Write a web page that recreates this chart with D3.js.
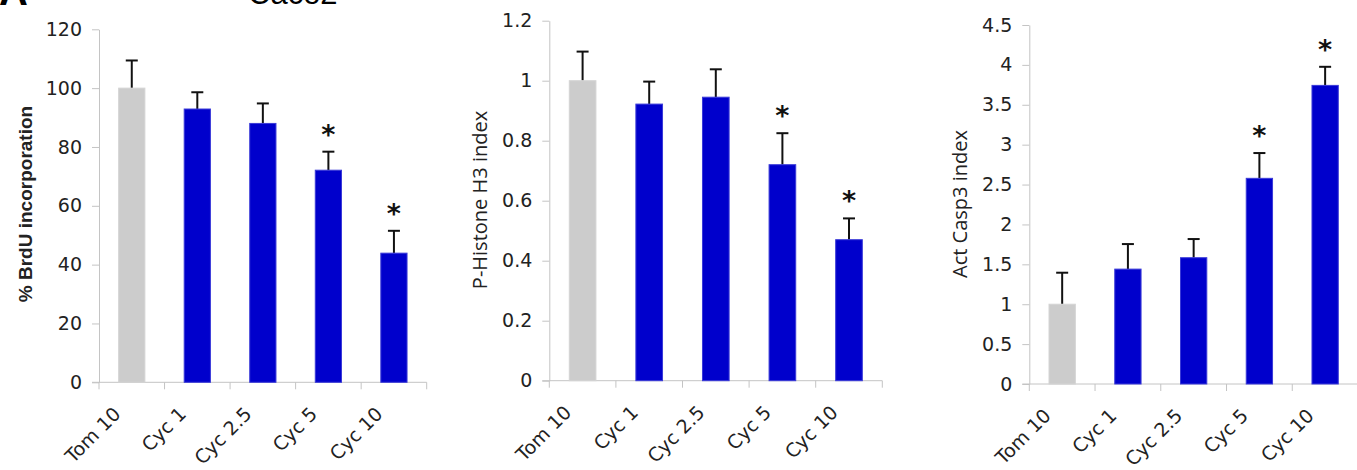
<!DOCTYPE html>
<html>
<head>
<meta charset="utf-8">
<script src="https://cdn.jsdelivr.net/npm/d3@7"></script>
<style>
  body { margin: 0; background: #fff; }
  svg { display: block; }
  .tick text, .xlab { font-family: "DejaVu Sans", Verdana, sans-serif; font-size: 19px; fill: #222; }
  .ylab { font-family: "Open Sans", sans-serif; font-size: 20px; fill: #222; }
  .ylab.bold { font-family: "Liberation Sans", Arial, sans-serif; font-weight: bold; font-size: 19px; }
  .star { font-family: "DejaVu Sans", sans-serif; font-size: 27px; font-weight: bold; fill: #111; }
</style>
</head>
<body>
<div id="chart"></div>
<script>
var categories = ["Tom 10", "Cyc 1", "Cyc 2.5", "Cyc 5", "Cyc 10"];

// % BrdU incorporation
var brduMean = [100, 92.9, 88.0, 72.1, 43.9];
var brduErr = [9.4, 5.7, 6.8, 6.3, 7.6];
var brduSig = [false, false, false, true, true];
var brduTicks = [0, 20, 40, 60, 80, 100, 120];

// P-Histone H3 index
var ph3Mean = [1.0, 0.922, 0.945, 0.72, 0.47];
var ph3Err = [0.097, 0.075, 0.093, 0.105, 0.071];
var ph3Sig = [false, false, false, true, true];
var ph3Ticks = [0, 0.2, 0.4, 0.6, 0.8, 1, 1.2];

// Act Casp3 index
var casp3Mean = [1.0, 1.44, 1.583, 2.578, 3.743];
var casp3Err = [0.395, 0.314, 0.234, 0.317, 0.233];
var casp3Sig = [false, false, false, true, true];
var casp3Ticks = [0, 0.5, 1, 1.5, 2, 2.5, 3, 3.5, 4, 4.5];

var width = 1357,
    height = 470;

var svg = d3.select("#chart").append("svg")
    .attr("width", width)
    .attr("height", height);

// panel letter and title, cut off at the top edge as in the figure
svg.append("text")
    .attr("x", -1).attr("y", 5)
    .style("font-family", "Liberation Sans, Arial, sans-serif")
    .style("font-weight", "bold")
    .style("font-size", "40px")
    .text("A");
svg.append("text")
    .attr("x", 248).attr("y", 4)
    .style("font-family", "Liberation Sans, Arial, sans-serif")
    .style("font-size", "31px")
    .text("Caco2");

var panels = [
  { mean: brduMean, err: brduErr, sig: brduSig, ticks: brduTicks, max: 120,
    label: "% BrdU incorporation", bold: true,
    x0: 99, x1: 426.7, y0: 382.3, y1: 29.3, labX: 32, labY: 204 },
  { mean: ph3Mean, err: ph3Err, sig: ph3Sig, ticks: ph3Ticks, max: 1.2,
    label: "P-Histone H3 index", bold: false,
    x0: 549.3, x1: 882.3, y0: 380.7, y1: 20.7, labX: 487, labY: 200 },
  { mean: casp3Mean, err: casp3Err, sig: casp3Sig, ticks: casp3Ticks, max: 4.5,
    label: "Act Casp3 index", bold: false,
    x0: 1029.3, x1: 1358, y0: 384, y1: 25, labX: 967, labY: 204 }
];

panels.forEach(drawPanel);

function drawPanel(p) {
  var g = svg.append("g");

  var x = d3.scaleBand()
      .domain(categories)
      .range([p.x0, p.x1])
      .padding(0);

  var y = d3.scaleLinear()
      .domain([0, p.max])
      .range([p.y0, p.y1]);

  var yAxis = d3.axisLeft(y)
      .tickValues(p.ticks)
      .tickFormat(function(d) { return d3.format("~g")(d); })
      .tickSize(7)
      .tickSizeOuter(0)
      .tickPadding(10);

  var ya = g.append("g")
      .attr("transform", "translate(" + p.x0 + ",0)")
      .call(yAxis);
  ya.select(".domain").attr("stroke", "#c4c4c4");
  ya.selectAll(".tick line").attr("stroke", "#c4c4c4");

  // x axis: line with ticks at band edges
  g.append("line")
      .attr("x1", p.x0 - 7).attr("x2", p.x1)
      .attr("y1", y(0)).attr("y2", y(0))
      .attr("stroke", "#c4c4c4");

  var edges = categories.map(function(c) { return x(c); }).concat([p.x1]);
  g.selectAll(".xtick")
      .data(edges)
      .enter().append("line")
      .attr("class", "xtick")
      .attr("x1", function(d) { return d; })
      .attr("x2", function(d) { return d; })
      .attr("y1", y(0)).attr("y2", y(0) + 7)
      .attr("stroke", "#c4c4c4");

  var barW = x.bandwidth() * 0.4;

  var rows = categories.map(function(c, i) {
    return { cat: c, i: i, v: p.mean[i], e: p.err[i], s: p.sig[i] };
  });

  // error bars (upper only)
  g.selectAll(".err")
      .data(rows)
      .enter().append("line")
      .attr("class", "err")
      .attr("x1", function(d) { return x(d.cat) + x.bandwidth() / 2; })
      .attr("x2", function(d) { return x(d.cat) + x.bandwidth() / 2; })
      .attr("y1", function(d) { return y(d.v); })
      .attr("y2", function(d) { return y(d.v + d.e); })
      .attr("stroke", "#111")
      .attr("stroke-width", 2);

  g.selectAll(".cap")
      .data(rows)
      .enter().append("line")
      .attr("class", "cap")
      .attr("x1", function(d) { return x(d.cat) + x.bandwidth() / 2 - 6; })
      .attr("x2", function(d) { return x(d.cat) + x.bandwidth() / 2 + 6; })
      .attr("y1", function(d) { return y(d.v + d.e); })
      .attr("y2", function(d) { return y(d.v + d.e); })
      .attr("stroke", "#111")
      .attr("stroke-width", 2);

  g.selectAll(".bar")
      .data(rows)
      .enter().append("rect")
      .attr("class", "bar")
      .attr("x", function(d) { return x(d.cat) + (x.bandwidth() - barW) / 2; })
      .attr("y", function(d) { return y(d.v); })
      .attr("width", barW)
      .attr("height", function(d) { return y(0) - y(d.v); })
      .attr("fill", function(d) { return d.i === 0 ? "#cccccc" : "#0000cc"; })
      .attr("stroke", function(d) { return d.i === 0 ? "#d4d4d4" : "#3a3ad8"; })
      .attr("stroke-width", 1);

  g.selectAll(".star")
      .data(rows.filter(function(d) { return d.s; }))
      .enter().append("text")
      .attr("class", "star")
      .attr("text-anchor", "middle")
      .attr("x", function(d) { return x(d.cat) + x.bandwidth() / 2; })
      .attr("y", function(d) { return y(d.v + d.e) - 8; })
      .text("*");

  g.selectAll(".xlab")
      .data(categories)
      .enter().append("text")
      .attr("class", "xlab")
      .attr("text-anchor", "end")
      .attr("transform", function(d) {
        return "translate(" + (x(d) + x.bandwidth() / 2 - 10) + "," + (y(0) + 33) + ") rotate(-45)";
      })
      .text(function(d) { return d; });

  g.append("text")
      .attr("class", p.bold ? "ylab bold" : "ylab")
      .attr("text-anchor", "middle")
      .attr("transform", "translate(" + p.labX + "," + p.labY + ") rotate(-90)")
      .text(p.label);
}
</script>
</body>
</html>
